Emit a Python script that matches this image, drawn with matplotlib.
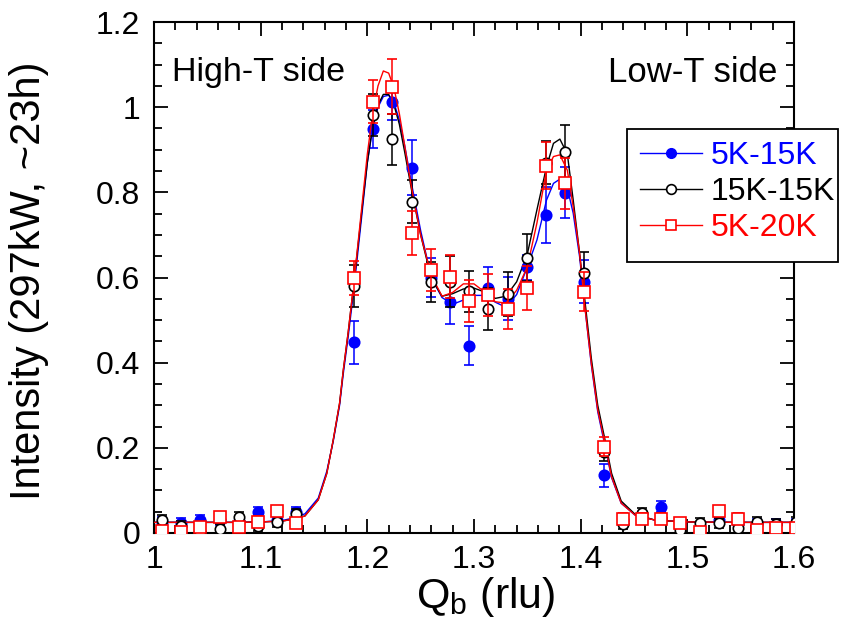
import numpy as np
import matplotlib
matplotlib.use("Agg")
import matplotlib.pyplot as plt
from matplotlib.lines import Line2D
from matplotlib.patches import Rectangle
from matplotlib.ticker import MultipleLocator, FuncFormatter

plt.rcParams['font.family'] = ['Liberation Sans', 'DejaVu Sans']
plt.rcParams['mathtext.fontset'] = 'custom'
plt.rcParams['mathtext.rm'] = 'Liberation Sans'

# ---- data points ----
q = [1.0075, 1.0255, 1.0435, 1.0615, 1.0795, 1.0975, 1.1155, 1.1335,
     1.1875, 1.2055, 1.2235, 1.2415, 1.2595, 1.2775, 1.2955, 1.3135,
     1.3315, 1.3495, 1.3675, 1.3855, 1.4035, 1.4215, 1.4395, 1.4575,
     1.4755, 1.4935, 1.5115, 1.5295, 1.5475, 1.5655, 1.5835, 1.6015]

i_5k15k = [0.025, 0.024, 0.031, 0.030, 0.028, 0.050, 0.030, 0.050,
           0.448, 0.949, 1.011, 0.858, 0.600, 0.543, 0.440, 0.575,
           0.550, 0.624, 0.747, 0.799, 0.590, 0.136, 0.030, 0.035,
           0.062, 0.020, 0.015, 0.030, 0.020, 0.020, 0.020, 0.020]
e_5k15k = [0.012, 0.012, 0.012, 0.012, 0.012, 0.012, 0.012, 0.012,
           0.050, 0.045, 0.040, 0.064, 0.045, 0.052, 0.045, 0.050,
           0.050, 0.030, 0.065, 0.060, 0.050, 0.027, 0.012, 0.012,
           0.012, 0.012, 0.012, 0.012, 0.012, 0.012, 0.012, 0.012]

i_15k15k = [0.031, 0.017, 0.003, 0.009, 0.038, 0.017, 0.027, 0.045,
            0.580, 0.982, 0.925, 0.778, 0.590, 0.590, 0.568, 0.526,
            0.562, 0.646, 0.870, 0.894, 0.610, 0.190, 0.022, 0.046,
            0.035, 0.007, 0.023, 0.023, 0.011, 0.026, 0.020, 0.025]
e_15k15k = [0.012, 0.012, 0.012, 0.012, 0.012, 0.012, 0.012, 0.012,
            0.050, 0.050, 0.060, 0.050, 0.047, 0.060, 0.048, 0.050,
            0.052, 0.055, 0.050, 0.064, 0.050, 0.020, 0.012, 0.012,
            0.012, 0.012, 0.012, 0.012, 0.012, 0.012, 0.012, 0.012]

i_5k20k = [0.005, 0.003, 0.015, 0.037, 0.015, 0.027, 0.052, 0.023,
           0.598, 1.013, 1.048, 0.705, 0.618, 0.602, 0.545, 0.559,
           0.527, 0.575, 0.863, 0.821, 0.567, 0.203, 0.034, 0.034,
           0.034, 0.023, 0.003, 0.052, 0.034, 0.007, 0.011, 0.012]
e_5k20k = [0.012, 0.012, 0.012, 0.012, 0.012, 0.012, 0.012, 0.012,
           0.040, 0.050, 0.065, 0.052, 0.050, 0.050, 0.050, 0.050,
           0.047, 0.052, 0.056, 0.059, 0.045, 0.022, 0.012, 0.012,
           0.012, 0.012, 0.012, 0.012, 0.012, 0.012, 0.012, 0.012]

# ---- fit curves ----
q_fit = [1.00, 1.02, 1.04, 1.06, 1.08, 1.10, 1.12, 1.13, 1.1415, 1.154,
         1.162, 1.168, 1.174, 1.1775, 1.182, 1.1875, 1.195, 1.20, 1.205, 1.21,
         1.215, 1.22, 1.225, 1.23, 1.235, 1.2415, 1.25, 1.26, 1.27, 1.28,
         1.29, 1.30, 1.31, 1.32, 1.33, 1.34, 1.35, 1.359, 1.368, 1.3745,
         1.3805, 1.3875, 1.393, 1.399, 1.404, 1.41, 1.416, 1.4227, 1.429, 1.438,
         1.451, 1.47, 1.50, 1.55, 1.60]

fit_5k15k = [0.025, 0.025, 0.025, 0.025, 0.025, 0.026, 0.029, 0.035, 0.045, 0.082,
             0.145, 0.215, 0.300, 0.375, 0.460, 0.575, 0.750, 0.870, 0.950, 1.000,
             1.025, 1.028, 1.010, 0.970, 0.910, 0.820, 0.710, 0.600, 0.553, 0.537,
             0.547, 0.558, 0.558, 0.542, 0.530, 0.560, 0.625, 0.688, 0.782, 0.821,
             0.831, 0.810, 0.751, 0.649, 0.530, 0.395, 0.285, 0.205, 0.130, 0.070,
             0.042, 0.030, 0.026, 0.025, 0.025]

fit_15k15k = [0.025, 0.025, 0.025, 0.025, 0.025, 0.026, 0.028, 0.032, 0.040, 0.078,
              0.140, 0.218, 0.305, 0.383, 0.470, 0.590, 0.760, 0.870, 0.955, 1.005,
              1.030, 1.030, 1.005, 0.960, 0.895, 0.805, 0.700, 0.598, 0.556, 0.562,
              0.573, 0.575, 0.566, 0.551, 0.556, 0.590, 0.655, 0.759, 0.860, 0.915,
              0.925, 0.890, 0.782, 0.657, 0.545, 0.410, 0.300, 0.220, 0.140, 0.075,
              0.044, 0.030, 0.026, 0.025, 0.025]

fit_5k20k = [0.025, 0.025, 0.025, 0.025, 0.025, 0.026, 0.028, 0.032, 0.040, 0.078,
             0.140, 0.218, 0.305, 0.383, 0.470, 0.590, 0.770, 0.890, 0.985, 1.050,
             1.085, 1.080, 1.045, 0.985, 0.910, 0.810, 0.700, 0.605, 0.556, 0.565,
             0.585, 0.585, 0.566, 0.543, 0.540, 0.570, 0.625, 0.728, 0.852, 0.884,
             0.888, 0.852, 0.766, 0.657, 0.530, 0.398, 0.289, 0.211, 0.132, 0.070,
             0.042, 0.030, 0.026, 0.025, 0.025]

labels = ['5K-15K', '15K-15K', '5K-20K']
colors = ['#0000ff', '#000000', '#ff0000']
x_ticks = [1.0, 1.1, 1.2, 1.3, 1.4, 1.5, 1.6]
y_ticks = [0.0, 0.2, 0.4, 0.6, 0.8, 1.0, 1.2]

W, H = 853, 640
fig = plt.figure(figsize=(W / 100, H / 100), dpi=100)
ax = fig.add_axes([154 / W, 1 - 533 / H, (794 - 154) / W, (533 - 22) / H])

series = [
    (i_5k15k, e_5k15k, fit_5k15k, 'o', colors[0]),
    (i_15k15k, e_15k15k, fit_15k15k, 'o', 'white'),
    (i_5k20k, e_5k20k, fit_5k20k, 's', 'white'),
]
for k, (yv, ev, fv, mk, mfc) in enumerate(series):
    c = colors[k]
    ax.plot(q_fit, fv, '-', color=c, lw=1.0, zorder=2 + k)
    ax.errorbar(q, yv, yerr=ev, fmt=mk, ms=7.5 if mk == 'o' else 8,
                mfc=mfc, mec=c, mew=1.2, ecolor=c, elinewidth=1.1,
                capsize=3.5, capthick=1.1, zorder=3 + k)

ax.set_xlim(1.0, 1.6)
ax.set_ylim(0.0, 1.2)
ax.set_xticks(x_ticks)
ax.set_yticks(y_ticks)
fmt = FuncFormatter(lambda v, p: f"{v:g}")
ax.xaxis.set_major_formatter(fmt)
ax.yaxis.set_major_formatter(fmt)
ax.xaxis.set_minor_locator(MultipleLocator(0.02))
ax.yaxis.set_minor_locator(MultipleLocator(0.05))
ax.tick_params(which='both', direction='in', top=True, right=True,
               labelsize=23, width=1.3)
ax.tick_params(which='major', length=10)
ax.tick_params(which='minor', length=6)
ax.tick_params(axis='x', pad=9)
ax.tick_params(axis='y', pad=10)
for s in ax.spines.values():
    s.set_linewidth(1.5)

ax.set_xlabel(r'Q$_{\mathregular{b}}$ (rlu)', fontsize=31)
ax.set_ylabel('Intensity (297kW, ~23h)', fontsize=30)
ax.xaxis.set_label_coords(486 / W, 1 - 597 / H, transform=fig.transFigure)
ax.yaxis.set_label_coords(29 / W, 1 - 281 / H, transform=fig.transFigure)
ax.xaxis.label.set_va('center')
ax.yaxis.label.set_va('center')

ax.text(172 / W, 1 - 72 / H, 'High-T side', transform=fig.transFigure,
        fontsize=24.5, ha='left', va='center')
ax.text(777 / W, 1 - 72 / H, 'Low-T side', transform=fig.transFigure,
        fontsize=25, ha='right', va='center')

# legend box
rect = Rectangle((626.7 / W, 1 - 261.7 / H), (838 - 626.7) / W, (261.7 - 129.3) / H,
                 transform=fig.transFigure, facecolor='white', edgecolor='black',
                 lw=1.3, zorder=10)
fig.add_artist(rect)
handles = [
    Line2D([], [], color=colors[0], lw=1.0, marker='o', ms=7, mfc=colors[0], mec=colors[0]),
    Line2D([], [], color=colors[1], lw=1.0, marker='o', ms=7, mfc='white', mec=colors[1], mew=1.2),
    Line2D([], [], color=colors[2], lw=1.0, marker='s', ms=7, mfc='white', mec=colors[2], mew=1.2),
]
leg = fig.legend(handles, labels, loc='upper left',
                 bbox_to_anchor=(637 / W, 1 - 138 / H), frameon=False,
                 fontsize=23, labelcolor=colors, numpoints=1,
                 handlelength=1.95, handletextpad=0.25, labelspacing=0.19,
                 borderpad=0.1, borderaxespad=0)
leg.set_zorder(11)

fig.savefig('out.png', dpi=100)
